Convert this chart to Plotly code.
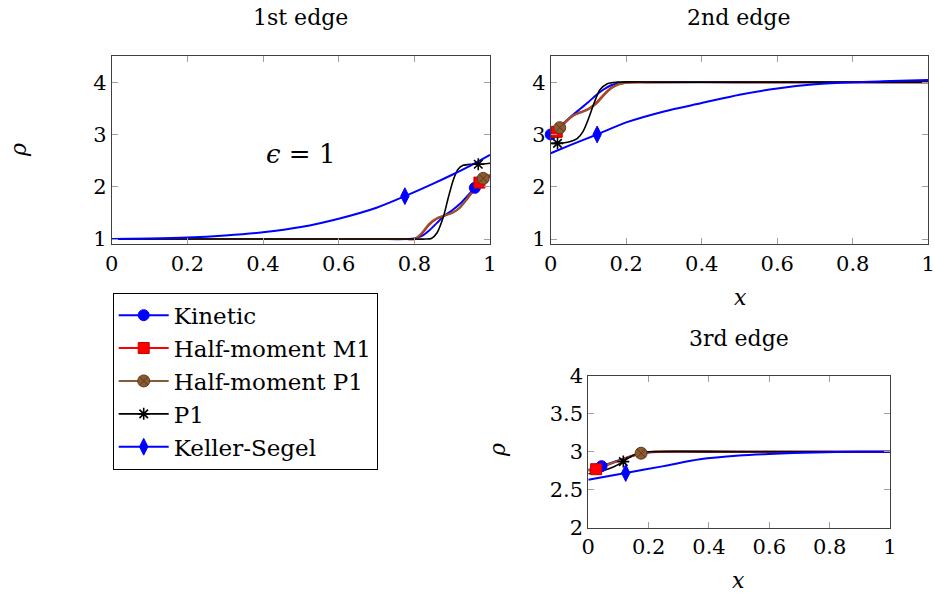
import plotly.graph_objects as go

# ---------------- data ----------------
# Edge 1
kin1_x = [0, 0.2, 0.4, 0.6, 0.7, 0.78, 0.8, 0.82, 0.84, 0.86, 0.88, 0.9, 0.92, 0.94, 0.96, 0.98, 1.0]
kin1_y = [1, 1, 1, 1, 1, 1.0, 1.01, 1.06, 1.17, 1.31, 1.45, 1.55, 1.67, 1.82, 1.98, 2.1, 2.2]
m1_1_x = [0, 0.2, 0.4, 0.6, 0.7, 0.78, 0.8, 0.82, 0.84, 0.86, 0.88, 0.9, 0.92, 0.94, 0.96, 0.972, 0.99, 1.0]
m1_1_y = [1, 1, 1, 1, 1, 1.0, 1.0, 1.1, 1.28, 1.39, 1.45, 1.5, 1.6, 1.77, 1.96, 2.08, 2.17, 2.21]
hp1_1_x = [0, 0.2, 0.4, 0.6, 0.7, 0.78, 0.8, 0.82, 0.84, 0.86, 0.88, 0.9, 0.92, 0.94, 0.96, 0.982, 1.0]
hp1_1_y = [1, 1, 1, 1, 1, 1.0, 1.0, 1.12, 1.3, 1.4, 1.45, 1.5, 1.6, 1.78, 1.98, 2.16, 2.23]
p1_1_x = [0, 0.2, 0.4, 0.6, 0.8, 0.83, 0.845, 0.86, 0.877, 0.89, 0.903, 0.915, 0.929, 0.95, 0.969, 1.0]
p1_1_y = [1, 1, 1, 1, 1, 1.0, 1.01, 1.12, 1.43, 1.8, 2.13, 2.33, 2.41, 2.43, 2.43, 2.45]
ks1_x = [0, 0.1, 0.2, 0.3, 0.4, 0.5, 0.6, 0.7, 0.775, 0.85, 0.9, 0.95, 1.0]
ks1_y = [1.0, 1.01, 1.03, 1.07, 1.13, 1.23, 1.39, 1.6, 1.82, 2.06, 2.23, 2.41, 2.61]

# Edge 2
kin2_x = [0, 0.02, 0.05, 0.08, 0.1, 0.12, 0.14, 0.16, 0.18, 0.2, 0.25, 0.5, 1.0]
kin2_y = [3.0, 3.12, 3.32, 3.5, 3.62, 3.75, 3.86, 3.94, 3.98, 4.0, 4.0, 4.0, 4.0]
m1_2_x = [0, 0.016, 0.04, 0.06, 0.08, 0.1, 0.12, 0.14, 0.16, 0.18, 0.2, 0.25, 0.5, 1.0]
m1_2_y = [3.0, 3.05, 3.24, 3.36, 3.43, 3.49, 3.6, 3.76, 3.89, 3.96, 3.99, 4.0, 4.0, 4.0]
hp1_2_x = [0, 0.024, 0.04, 0.06, 0.08, 0.1, 0.12, 0.14, 0.16, 0.18, 0.2, 0.25, 0.5, 1.0]
hp1_2_y = [3.03, 3.13, 3.25, 3.37, 3.42, 3.48, 3.58, 3.74, 3.88, 3.96, 3.99, 4.0, 4.0, 4.0]
p1_2_x = [0, 0.018, 0.05, 0.07, 0.085, 0.1, 0.115, 0.13, 0.15, 0.175, 0.3, 1.0]
p1_2_y = [2.83, 2.83, 2.86, 2.92, 3.05, 3.3, 3.6, 3.85, 3.97, 4.0, 4.0, 4.0]
ks2_x = [0, 0.05, 0.123, 0.2, 0.3, 0.4, 0.5, 0.6, 0.7, 0.8, 0.9, 1.0]
ks2_y = [2.64, 2.79, 3.0, 3.23, 3.44, 3.6, 3.76, 3.88, 3.96, 4.0, 4.02, 4.04]

# Edge 3
kin3_x = [0, 0.044, 0.08, 0.12, 0.16, 0.2, 0.25, 0.5, 1.0]
kin3_y = [2.76, 2.81, 2.86, 2.91, 2.96, 2.99, 3.0, 3.0, 3.0]
m1_3_x = [0, 0.026, 0.06, 0.1, 0.14, 0.18, 0.22, 0.5, 1.0]
m1_3_y = [2.75, 2.77, 2.82, 2.88, 2.94, 2.98, 3.0, 3.0, 3.0]
hp1_3_x = [0, 0.03, 0.06, 0.1, 0.14, 0.175, 0.21, 0.5, 1.0]
hp1_3_y = [2.76, 2.79, 2.83, 2.88, 2.94, 2.98, 3.0, 3.0, 3.0]
p1_3_x = [0, 0.039, 0.083, 0.116, 0.138, 0.171, 0.2, 0.5, 1.0]
p1_3_y = [2.71, 2.74, 2.8, 2.87, 2.93, 2.99, 3.0, 3.0, 3.0]
ks3_x = [0, 0.124, 0.25, 0.37, 0.5, 0.6, 0.75, 0.9, 1.0]
ks3_y = [2.63, 2.72, 2.81, 2.9, 2.95, 2.97, 2.99, 3.0, 3.0]

# index of the single marker drawn on each curve
mark_idx = {
    1: {"kin": 14, "m1": 15, "hp1": 15, "p1": 14, "ks": 8},
    2: {"kin": 0, "m1": 1, "hp1": 1, "p1": 1, "ks": 2},
    3: {"kin": 1, "m1": 1, "hp1": 5, "p1": 3, "ks": 1},
}

series_names = ["Kinetic", "Half-moment M1", "Half-moment P1", "P1", "Keller-Segel"]
subplot_titles = ["1st edge", "2nd edge", "3rd edge"]
x_ticks = [0, 0.2, 0.4, 0.6, 0.8, 1.0]
x_ticktext = ["0", "0.2", "0.4", "0.6", "0.8", "1"]
y_ticks_12 = [1, 2, 3, 4]
y_ticks_3 = [2, 2.5, 3, 3.5, 4]
y_ticktext_3 = ["2", "2.5", "3", "3.5", "4"]

# ---------------- styling ----------------
FONT = "'DejaVu Serif', serif"
FS_TICK = 21
FS_TEXT = 22
FS_LEG = 23
BLUE = "#0000ff"
RED = "#ff0000"
BROWN = "#8a5a30"
BLACK = "#000000"

styles = {
    "kin": dict(name=series_names[0], color=BLUE, width=2,
                marker=dict(symbol="circle", size=11, color=BLUE, line=dict(color=BLUE, width=1))),
    "m1": dict(name=series_names[1], color=RED, width=2,
               marker=dict(symbol="square", size=11, color=RED, line=dict(color="#c00000", width=1))),
    "hp1": dict(name=series_names[2], color=BROWN, width=2,
                marker=dict(symbol="circle-x", size=12, color=BROWN, line=dict(color="#5e3b1c", width=1))),
    "p1": dict(name=series_names[3], color=BLACK, width=1.6,
               marker=dict(symbol="asterisk-open", size=10, color=BLACK, line=dict(color=BLACK, width=1.6))),
    "ks": dict(name=series_names[4], color=BLUE, width=2,
               marker=dict(symbol="diamond-tall", size=12, color=BLUE, line=dict(color=BLUE, width=1))),
}

data = {
    1: {"kin": (kin1_x, kin1_y), "m1": (m1_1_x, m1_1_y), "hp1": (hp1_1_x, hp1_1_y),
        "p1": (p1_1_x, p1_1_y), "ks": (ks1_x, ks1_y)},
    2: {"kin": (kin2_x, kin2_y), "m1": (m1_2_x, m1_2_y), "hp1": (hp1_2_x, hp1_2_y),
        "p1": (p1_2_x, p1_2_y), "ks": (ks2_x, ks2_y)},
    3: {"kin": (kin3_x, kin3_y), "m1": (m1_3_x, m1_3_y), "hp1": (hp1_3_x, hp1_3_y),
        "p1": (p1_3_x, p1_3_y), "ks": (ks3_x, ks3_y)},
}

fig = go.Figure()
order = ["kin", "m1", "hp1", "p1", "ks"]
for sp in (1, 2, 3):
    xa = "x" if sp == 1 else f"x{sp}"
    ya = "y" if sp == 1 else f"y{sp}"
    for key in order:
        xs, ys = data[sp][key]
        st = styles[key]
        fig.add_trace(go.Scatter(
            x=xs, y=ys, mode="lines", xaxis=xa, yaxis=ya,
            line=dict(color=st["color"], width=st["width"], shape="spline", smoothing=0.8),
            showlegend=False, hoverinfo="skip"))
    for key in order:
        xs, ys = data[sp][key]
        st = styles[key]
        i = mark_idx[sp][key]
        fig.add_trace(go.Scatter(
            x=[xs[i]], y=[ys[i]], mode="lines+markers", xaxis=xa, yaxis=ya,
            name=st["name"], legendgroup=key,
            line=dict(color=st["color"], width=st["width"]),
            marker=st["marker"], cliponaxis=False,
            showlegend=(sp == 1)))

W, H = 935, 599
def px_x(a, b):
    return [a / W, b / W]
def px_y(top, bottom):
    return [1 - bottom / H, 1 - top / H]

axis_common = dict(
    showline=True, linecolor="#404040", linewidth=1, mirror="allticks",
    ticks="inside", ticklen=6, tickwidth=1, tickcolor="#a0a0a0",
    showgrid=False, zeroline=False, automargin=False,
    tickfont=dict(family=FONT, size=FS_TICK, color="black"),
)

fig.update_layout(
    template="none",
    width=W, height=H, margin=dict(l=0, r=0, t=0, b=0, autoexpand=False),
    paper_bgcolor="white", plot_bgcolor="white",
    font=dict(family=FONT, size=FS_TEXT, color="black"),
    xaxis=dict(domain=px_x(111.7, 490), range=[0, 1], tickvals=x_ticks, ticktext=x_ticktext, anchor="y", **axis_common),
    yaxis=dict(domain=px_y(56, 244.3), range=[0.9, 4.5], tickvals=y_ticks_12, anchor="x", **axis_common),
    xaxis2=dict(domain=px_x(550.7, 928.3), range=[0, 1], tickvals=x_ticks, ticktext=x_ticktext, anchor="y2", **axis_common),
    yaxis2=dict(domain=px_y(56, 244.3), range=[0.9, 4.5], tickvals=y_ticks_12, anchor="x2", **axis_common),
    xaxis3=dict(domain=px_x(588.3, 890), range=[0, 1], tickvals=x_ticks, ticktext=x_ticktext, anchor="y3", **axis_common),
    yaxis3=dict(domain=px_y(375.7, 527.7), range=[2, 4], tickvals=y_ticks_3, ticktext=y_ticktext_3, anchor="x3", **axis_common),
    legend=dict(x=112.7 / W, y=1 - 292.7 / H, xanchor="left", yanchor="top",
                bgcolor="white", bordercolor="black", borderwidth=1,
                font=dict(family=FONT, size=FS_LEG, color="black"),
                tracegroupgap=0, itemwidth=50),
    showlegend=True,
)

def ann(text, x, y, size=FS_TEXT, angle=0):
    fig.add_annotation(text=text, x=x / W, y=1 - y / H, xref="paper", yref="paper",
                       showarrow=False, textangle=angle, xanchor="center", yanchor="middle",
                       font=dict(family=FONT, size=size, color="black"))

ann(subplot_titles[0], 300.8, 18)
ann(subplot_titles[1], 738, 18)
ann(subplot_titles[2], 739, 338)
ann("<i>ρ</i>", 18, 150, angle=-90)
ann("<i>ρ</i>", 497, 450, angle=-90)
ann("<i>x</i>", 740, 297)
ann("<i>x</i>", 738, 580)
fig.add_annotation(text="<i>ϵ</i> = 1", x=0.5, y=2.63, xref="x", yref="y", showarrow=False,
                   font=dict(family=FONT, size=26, color="black"))

fig.write_html("out.html", config={"displayModeBar": False},
               post_script="document.body.style.margin='0px';document.body.style.overflow='hidden';")
